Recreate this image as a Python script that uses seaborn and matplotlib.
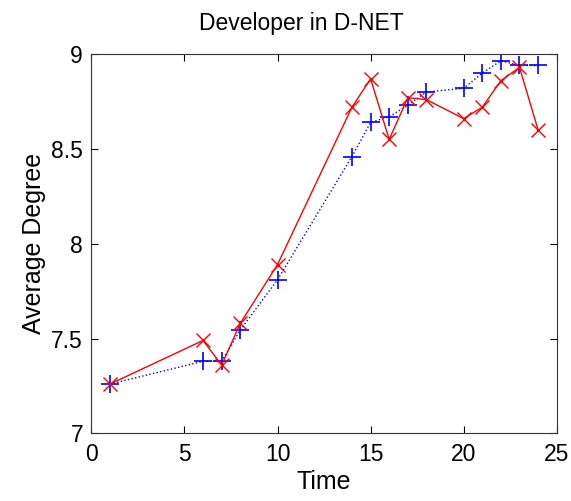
import matplotlib
matplotlib.use('Agg')
import matplotlib.pyplot as plt
import seaborn as sns

# values
time = [1, 6, 7, 8, 10, 14, 15, 16, 17, 18, 20, 21, 22, 23, 24]
degree_blue = [7.26, 7.38, 7.38, 7.545, 7.81, 8.46, 8.64, 8.67, 8.73, 8.80, 8.82, 8.90, 8.965, 8.94, 8.94]
degree_red = [7.26, 7.49, 7.36, 7.58, 7.89, 8.72, 8.87, 8.55, 8.77, 8.76, 8.66, 8.72, 8.86, 8.93, 8.60]

sns.set_style('ticks')
plt.rcParams['font.family'] = ['Liberation Sans', 'DejaVu Sans']
plt.rcParams['text.color'] = 'black'
plt.rcParams['axes.labelcolor'] = 'black'
plt.rcParams['xtick.color'] = 'black'
plt.rcParams['ytick.color'] = 'black'

fig = plt.figure(figsize=(5.71, 5.01), dpi=100)
ax = fig.add_axes([0.160, 0.135, 0.815, 0.757])

# blue dotted with plus markers
sns.lineplot(x=time, y=degree_blue, ax=ax, color='#0000ff', linestyle=':', linewidth=1,
             marker='+', markersize=13, markeredgewidth=1.2, markeredgecolor='#0000ff')
# red solid with x markers
sns.lineplot(x=time, y=degree_red, ax=ax, color='#ff0000', linestyle='-', linewidth=1,
             marker='x', markersize=10, markeredgewidth=1.0, markeredgecolor='#ff0000')

ax.set_xlim(0, 25)
ax.set_ylim(7, 9)
ax.set_xticks([0, 5, 10, 15, 20, 25])
ax.set_yticks([7, 7.5, 8, 8.5, 9])
ax.set_yticklabels(['7', '7.5', '8', '8.5', '9'])
ax.tick_params(direction='in', top=True, right=True, labelsize=16.5, length=5, width=0.8)
ax.tick_params(axis='x', pad=7)
ax.tick_params(axis='y', pad=6)
for sp in ax.spines.values():
    sp.set_visible(True)
    sp.set_linewidth(0.8)
    sp.set_color('#333333')

ax.set_title('Developer in D-NET', fontsize=16.5, x=0.452, pad=17)
ax.set_xlabel('Time', fontsize=18, labelpad=3)
ax.set_ylabel('Average Degree', fontsize=18, labelpad=4)

plt.savefig('out.png', dpi=100)
plt.close(fig)
